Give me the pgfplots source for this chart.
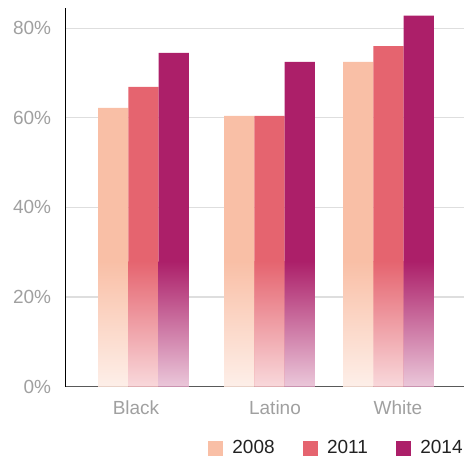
\documentclass[border=0pt]{standalone}
\usepackage{pgfplots}
\pgfplotsset{compat=1.18}
\usepackage{pgfplotstable}
\usepackage{fontspec}
\setmainfont{Liberation Sans}
\definecolor{cA}{HTML}{F9BFA6}
\definecolor{cB}{HTML}{E5646F}
\definecolor{cC}{HTML}{AC1F69}
\definecolor{tickgray}{HTML}{A0A0A0}
\definecolor{gridgray}{HTML}{DEDEDE}
\definecolor{legtext}{HTML}{222222}

% x = group centre (axis units = bp), y = share in percent
\pgfplotstableread{
x y
78.2 62.2
204.2 60.4
323.2 72.5
}\dataA
\pgfplotstableread{
x y
78.2 66.9
204.2 60.4
323.2 76.0
}\dataB
\pgfplotstableread{
x y
78.2 74.5
204.2 72.5
323.2 82.8
}\dataC
\pgfplotstableread{
x y
78.2 28
204.2 28
323.2 28
}\base

\begin{document}
\begin{tikzpicture}
\useasboundingbox (-65.3bp,-71.5bp) rectangle (398.7bp,386.5bp);
\begin{axis}[
  at={(0,0)}, anchor=south west,
  scale only axis, width=398.7bp, height=378.5bp,
  xmin=0, xmax=398.7, ymin=0, ymax=84.5,
  axis lines*=left,
  x axis line style={draw=black!65, line width=1.3bp},
  y axis line style={draw=black, line width=0.9bp},
  xtick={70.7,209.7,332.7}, xticklabels={Black,Latino,White},
  ytick={0,20,40,60,80}, yticklabels={0\%,20\%,40\%,60\%,80\%},
  major tick length=0pt,
  ymajorgrids, grid style={draw=gridgray, line width=1.3bp},
  tick label style={font=\fontsize{19bp}{22bp}\selectfont, text=tickgray},
  xticklabel style={inner sep=0pt, anchor=north, yshift=-14bp},
  yticklabel style={inner sep=0pt, anchor=east, xshift=-14bp},
  legend columns=3,
  legend style={at={(0.358,-0.1625)}, anchor=west, draw=none, fill=none,
    inner sep=0pt, outer sep=0pt,
    font=\fontsize{19bp}{22bp}\selectfont, text=legtext,
    nodes={inner sep=0pt},
    /tikz/every odd column/.style={column sep=10bp},
    /tikz/every even column/.style={column sep=28bp}},
]
\addlegendimage{legend image code/.code={\fill[cA] (0bp,-7bp) rectangle (14bp,7bp);}}
\addlegendentry{2008}
\addlegendimage{legend image code/.code={\fill[cB] (0bp,-7bp) rectangle (14bp,7bp);}}
\addlegendentry{2011}
\addlegendimage{legend image code/.code={\fill[cC] (0bp,-7bp) rectangle (14bp,7bp);}}
\addlegendentry{2014}

\addplot[forget plot, ybar, bar width=30.3, bar shift=-30.3, fill=cA, draw=none] table[x=x,y=y] {\dataA};
\addplot[forget plot, ybar, bar width=30.3, bar shift=0, fill=cB, draw=none] table[x=x,y=y] {\dataB};
\addplot[forget plot, ybar, bar width=30.3, bar shift=30.3, fill=cC, draw=none] table[x=x,y=y] {\dataC};

\addplot[forget plot, ybar, bar width=30.3, bar shift=-30.3, draw=none, top color=cA, bottom color=cA!25!white] table[x=x,y=y] {\base};
\addplot[forget plot, ybar, bar width=30.3, bar shift=0, draw=none, top color=cB, bottom color=cB!25!white] table[x=x,y=y] {\base};
\addplot[forget plot, ybar, bar width=30.3, bar shift=30.3, draw=none, top color=cC, bottom color=cC!25!white] table[x=x,y=y] {\base};
\end{axis}
\end{tikzpicture}
\end{document}
